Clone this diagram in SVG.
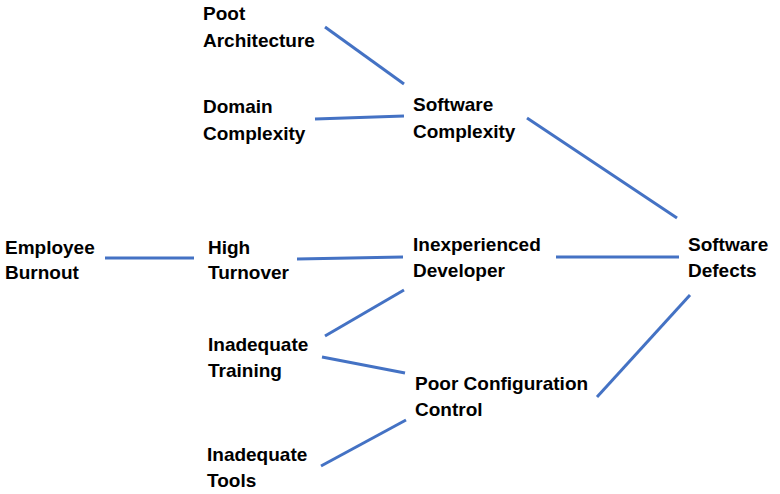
<svg xmlns="http://www.w3.org/2000/svg" width="780" height="494" viewBox="0 0 780 494">
<style>
text{font-family:"Liberation Sans",Arial,sans-serif;font-weight:bold;font-size:19px;fill:#000}
.c line{stroke:#4472C4;stroke-width:3;stroke-linecap:butt}
</style>
<rect width="780" height="494" fill="#fff"/>
<g class="c" id="connectors">
<line x1="325" y1="27" x2="404" y2="84"/>
<line x1="315" y1="119" x2="404" y2="116"/>
<line x1="527" y1="118" x2="677" y2="218"/>
<line x1="105" y1="258" x2="194" y2="258"/>
<line x1="297" y1="259" x2="403" y2="257"/>
<line x1="556" y1="257" x2="679" y2="257"/>
<line x1="325" y1="336" x2="404" y2="290"/>
<line x1="322" y1="357" x2="405" y2="373"/>
<line x1="321" y1="466" x2="406" y2="420"/>
<line x1="597" y1="397" x2="690" y2="295"/>
</g>
<g id="poor-architecture"><text x="203" y="20">Poot</text><text x="203" y="47">Architecture</text></g>
<g id="domain-complexity"><text x="203" y="113">Domain</text><text x="203" y="140">Complexity</text></g>
<g id="software-complexity"><text x="413" y="111">Software</text><text x="413" y="138">Complexity</text></g>
<g id="employee-burnout"><text x="5" y="254">Employee</text><text x="5" y="279">Burnout</text></g>
<g id="high-turnover"><text x="208" y="254">High</text><text x="208" y="279">Turnover</text></g>
<g id="inexperienced-developer"><text x="413" y="251">Inexperienced</text><text x="413" y="277">Developer</text></g>
<g id="software-defects"><text x="688" y="251">Software</text><text x="688" y="277">Defects</text></g>
<g id="inadequate-training"><text x="208" y="351">Inadequate</text><text x="208" y="377">Training</text></g>
<g id="poor-configuration-control"><text x="415" y="390">Poor Configuration</text><text x="415" y="416">Control</text></g>
<g id="inadequate-tools"><text x="207" y="461">Inadequate</text><text x="207" y="487">Tools</text></g>
</svg>
